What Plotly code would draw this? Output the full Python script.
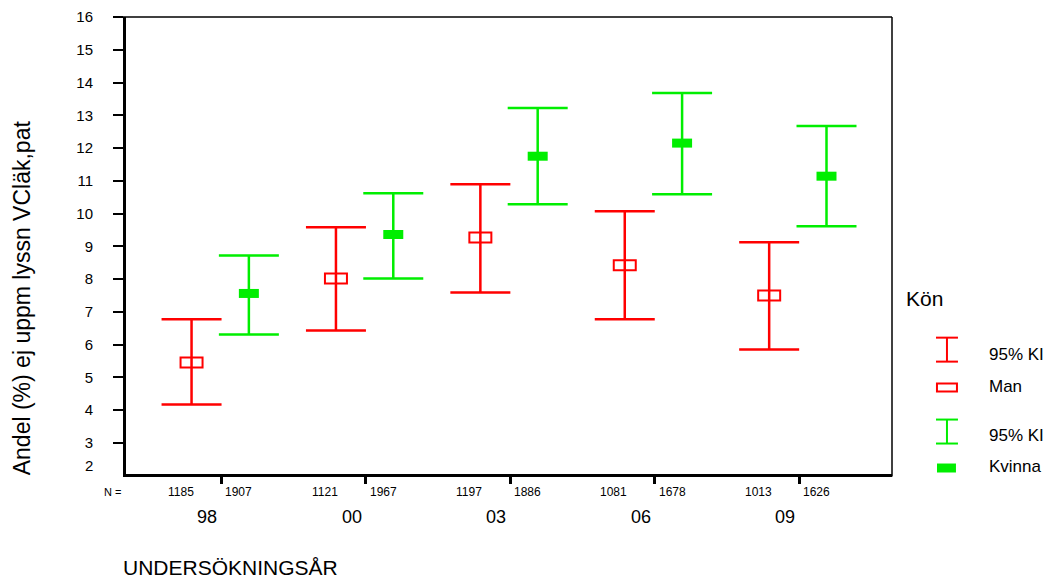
import plotly.graph_objects as go

# ---------------- data ----------------
years = ["98", "00", "03", "06", "09"]
man_mean = [5.45, 8.02, 9.27, 8.42, 7.50]
man_low = [4.17, 6.43, 7.59, 6.77, 5.85]
man_high = [6.77, 9.58, 10.89, 10.07, 9.12]
kv_mean = [7.56, 9.36, 11.75, 12.15, 11.14]
kv_low = [6.31, 8.02, 10.28, 10.59, 9.61]
kv_high = [8.72, 10.62, 13.22, 13.68, 12.67]
n_man = [1185, 1121, 1197, 1081, 1013]
n_kv = [1907, 1967, 1886, 1678, 1626]
y_ticks = list(range(2, 17))

RED = "#ff0000"
GREEN = "#00ee00"
FONT = "Liberation Sans, Arial, sans-serif"

W, H = 1048, 581
# plot area in page pixels (axis lines are drawn just outside it)
PLOT_L, PLOT_R, PLOT_T, PLOT_B = 125.5, 892, 17, 474.5
L, T = PLOT_L, PLOT_T
R, B = W - PLOT_R, H - PLOT_B
PW, PH = PLOT_R - PLOT_L, PLOT_B - PLOT_T

# axis scale (group 0 centre at x=221px, 144.5px per group; 32.79px per %)
X0PX, XSTEP = 221, 144.5
YTOP, YSTEP = 17, 32.79
x_range = [(PLOT_L - X0PX) / XSTEP, (PLOT_R - X0PX) / XSTEP]
y_range = [16 - (PLOT_B - YTOP) / YSTEP, 16]

def px(xp):
    return (xp - PLOT_L) / PW

def py(yp):
    return (PLOT_B - yp) / PH

idx = list(range(len(years)))
off_m, off_k = -0.207, 0.19
x_m = [i + off_m for i in idx]
x_k = [i + off_k for i in idx]

fig = go.Figure()
fig.add_trace(go.Scatter(
    x=x_m, y=man_mean, mode="markers", marker=dict(size=1, color="rgba(0,0,0,0)"),
    error_y=dict(type="data", symmetric=False,
                 array=[h - m for h, m in zip(man_high, man_mean)],
                 arrayminus=[m - l for m, l in zip(man_mean, man_low)],
                 color=RED, thickness=2.5, width=30),
    showlegend=False, hoverinfo="skip", cliponaxis=False))
fig.add_trace(go.Scatter(
    x=x_k, y=kv_mean, mode="markers", marker=dict(size=1, color="rgba(0,0,0,0)"),
    error_y=dict(type="data", symmetric=False,
                 array=[h - m for h, m in zip(kv_high, kv_mean)],
                 arrayminus=[m - l for m, l in zip(kv_mean, kv_low)],
                 color=GREEN, thickness=2.5, width=30),
    showlegend=False, hoverinfo="skip", cliponaxis=False))

shapes = []
# mean markers (pixel-sized rectangles anchored at data points)
for xv, yv in zip(x_m, man_mean):
    shapes.append(dict(type="rect", xref="x", yref="y", xsizemode="pixel", ysizemode="pixel",
                       xanchor=xv, yanchor=yv, x0=-11, x1=11, y0=-5, y1=5,
                       line=dict(color=RED, width=2), fillcolor="rgba(0,0,0,0)", layer="above"))
for xv, yv in zip(x_k, kv_mean):
    shapes.append(dict(type="rect", xref="x", yref="y", xsizemode="pixel", ysizemode="pixel",
                       xanchor=xv, yanchor=yv, x0=-10, x1=10, y0=-4.5, y1=4.5,
                       line=dict(color=GREEN, width=0), fillcolor=GREEN, layer="above"))

# top and right frame lines
shapes.append(dict(type="line", xref="paper", yref="paper", x0=px(113), x1=1, y0=1, y1=1,
                   line=dict(color="black", width=1.5)))
shapes.append(dict(type="line", xref="paper", yref="paper", x0=1, x1=1, y0=py(477), y1=1,
                   line=dict(color="black", width=1.5)))

# legend icons
def ibeam(cx, y0p, y1p, color):
    hw = 11
    shapes.append(dict(type="line", xref="paper", yref="paper", x0=px(cx), x1=px(cx),
                       y0=py(y0p), y1=py(y1p), line=dict(color=color, width=2)))
    for yy in (y0p, y1p):
        shapes.append(dict(type="line", xref="paper", yref="paper", x0=px(cx - hw), x1=px(cx + hw),
                           y0=py(yy), y1=py(yy), line=dict(color=color, width=2)))

ibeam(947, 338, 362, RED)
shapes.append(dict(type="rect", xref="paper", yref="paper", x0=px(937), x1=px(957),
                   y0=py(392), y1=py(384), line=dict(color=RED, width=2), fillcolor="rgba(0,0,0,0)"))
ibeam(947, 420, 444, GREEN)
shapes.append(dict(type="rect", xref="paper", yref="paper", x0=px(937), x1=px(956),
                   y0=py(473), y1=py(464), line=dict(width=0), fillcolor=GREEN))

annotations = []
# N labels
annotations.append(dict(text="N =", xref="paper", yref="paper", x=px(112), y=py(493),
                        xanchor="center", yanchor="middle", showarrow=False,
                        font=dict(size=11, color="black", family=FONT)))
for xv, n in zip(x_m, n_man):
    annotations.append(dict(text=str(n), xref="x", yref="paper", x=xv, xshift=-11, y=py(493),
                            xanchor="center", yanchor="middle", showarrow=False,
                            font=dict(size=12, color="black", family=FONT)))
for xv, n in zip(x_k, n_kv):
    annotations.append(dict(text=str(n), xref="x", yref="paper", x=xv, xshift=-10, y=py(493),
                            xanchor="center", yanchor="middle", showarrow=False,
                            font=dict(size=12, color="black", family=FONT)))
for i, yr in zip(idx, years):
    annotations.append(dict(text=yr, xref="x", yref="paper", x=i, xshift=-14, y=py(518),
                            xanchor="center", yanchor="middle", showarrow=False,
                            font=dict(size=18, color="black", family=FONT)))
# lowest y tick label (drawn lifted as in original)
annotations.append(dict(text=str(y_ticks[0]), xref="paper", yref="paper", x=px(94), y=py(466),
                        xanchor="right", yanchor="middle", showarrow=False,
                        font=dict(size=15, color="black", family=FONT)))
# axis titles
annotations.append(dict(text="UNDERSÖKNINGSÅR", xref="paper", yref="paper", x=px(120), y=py(568),
                        xanchor="left", yanchor="middle", showarrow=False,
                        font=dict(size=21, color="black", family=FONT)))
annotations.append(dict(text="Andel (%) ej uppm lyssn VCläk,pat", xref="paper", yref="paper",
                        x=px(21), y=py(298), textangle=-90, xanchor="center", yanchor="middle",
                        showarrow=False, font=dict(size=23, color="black", family=FONT)))
# legend texts
annotations.append(dict(text="Kön", xref="paper", yref="paper", x=px(904), y=py(299),
                        xanchor="left", yanchor="middle", showarrow=False,
                        font=dict(size=21, color="black", family=FONT)))
for txt, yp in [("95% KI", 355), ("Man", 387), ("95% KI", 436), ("Kvinna", 467)]:
    annotations.append(dict(text=txt, xref="paper", yref="paper", x=px(987), y=py(yp),
                            xanchor="left", yanchor="middle", showarrow=False,
                            font=dict(size=17, color="black", family=FONT)))

fig.update_layout(
    template="none",
    width=W, height=H, autosize=False,
    margin=dict(l=L, r=R, t=T, b=B, pad=0, autoexpand=False),
    paper_bgcolor="white", plot_bgcolor="white",
    showlegend=False,
    font=dict(family=FONT, color="black"),
    xaxis=dict(range=x_range, tickvals=idx, showticklabels=False,
               ticks="outside", ticklen=7, tickwidth=3, tickcolor="black",
               showline=True, linewidth=3, linecolor="black", automargin=False,
               showgrid=False, zeroline=False, fixedrange=True),
    yaxis=dict(range=y_range, tickvals=y_ticks,
               ticktext=[""] + [str(v) for v in y_ticks[1:]],
               ticks="outside", ticklen=10, tickwidth=2, tickcolor="black",
               tickfont=dict(size=15, color="black", family=FONT),
               ticklabelstandoff=17, automargin=False,
               showline=True, linewidth=3, linecolor="black",
               showgrid=False, zeroline=False, fixedrange=True),
    shapes=shapes,
    annotations=annotations,
)

fig.write_html(
    "out.html",
    config={"displayModeBar": False, "staticPlot": True},
    post_script="document.body.style.margin='0';"
                "document.body.style.overflow='hidden';"
                "document.documentElement.style.overflow='hidden';",
)
